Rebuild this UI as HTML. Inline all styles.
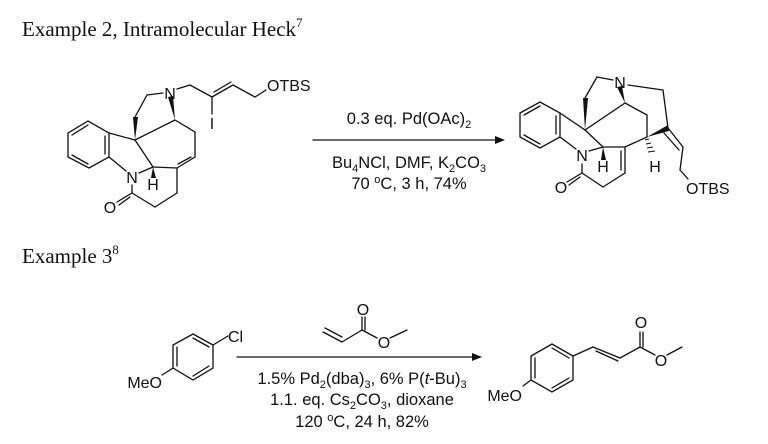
<!DOCTYPE html>
<html><head><meta charset="utf-8"><style>
html,body{margin:0;padding:0;background:#fff;}
svg{display:block;}
.t{font-family:"Liberation Sans",sans-serif;font-size:16.5px;fill:#111;}
.a{font-family:"Liberation Sans",sans-serif;font-size:16px;fill:#111;}
.s{font-family:"Liberation Serif",serif;font-size:21px;fill:#111;}
</style></head><body>
<svg width="768" height="444" viewBox="0 0 768 444" xmlns="http://www.w3.org/2000/svg">
<g stroke="#111" stroke-width="1.3" fill="none" stroke-linecap="round">
<!-- Left molecule -->
<polyline points="68,133 88,121 109,133 109,157 89,168 68,157 68,133"/>
<line x1="72" y1="135" x2="88" y2="125"/><line x1="105" y1="136" x2="105" y2="154"/><line x1="72" y1="155" x2="88" y2="164"/>
<line x1="109" y1="133" x2="135" y2="140"/>
<line x1="109" y1="157" x2="126" y2="171"/>
<line x1="139" y1="173" x2="153" y2="167"/>
<line x1="135" y1="140" x2="153" y2="167"/>
<line x1="147" y1="95" x2="163" y2="93"/>
<line x1="135" y1="117" x2="147" y2="95"/>
<line x1="175" y1="120" x2="135" y2="140"/>
<line x1="175" y1="120" x2="195" y2="132"/>
<line x1="195" y1="132" x2="195" y2="157"/>
<line x1="195" y1="157" x2="177" y2="168"/><line x1="191" y1="157" x2="178" y2="164"/>
<line x1="177" y1="168" x2="153" y2="167"/>
<line x1="177" y1="168" x2="177" y2="193"/>
<line x1="177" y1="193" x2="155" y2="207"/>
<line x1="155" y1="207" x2="132" y2="193"/>
<line x1="132" y1="193" x2="132" y2="185"/>
<line x1="132" y1="193" x2="117" y2="202"/><line x1="130" y1="197" x2="119" y2="205"/>
<line x1="177" y1="89" x2="190" y2="85"/>
<line x1="190" y1="85" x2="212" y2="97"/>
<line x1="212" y1="97" x2="212" y2="114"/>
<line x1="212" y1="97" x2="233" y2="85"/><line x1="214" y1="92" x2="231" y2="82"/>
<line x1="233" y1="85" x2="255" y2="97"/>
<line x1="255" y1="97" x2="266" y2="90"/>
<!-- Top arrow -->
<line x1="313" y1="140" x2="497" y2="140"/>
<!-- Right molecule -->
<polyline points="520,113 540,102 560,113 560,137 540,148 520,137 520,113"/>
<line x1="524" y1="115" x2="540" y2="106"/><line x1="556" y1="116" x2="556" y2="134"/><line x1="524" y1="135" x2="540" y2="144"/>
<line x1="560" y1="113" x2="585" y2="130"/>
<line x1="560" y1="137" x2="576" y2="149"/>
<line x1="589" y1="151" x2="603" y2="147"/>
<line x1="585" y1="130" x2="603" y2="147"/>
<line x1="585" y1="98" x2="597" y2="77"/>
<line x1="597" y1="77" x2="613" y2="80"/>
<line x1="625" y1="103" x2="585" y2="130"/>
<line x1="625" y1="103" x2="647" y2="115"/>
<line x1="647" y1="115" x2="647" y2="137"/>
<line x1="603" y1="147" x2="625" y2="147"/>
<line x1="625" y1="147" x2="647" y2="137"/>
<line x1="625" y1="147" x2="625" y2="173"/><line x1="621" y1="151" x2="621" y2="170"/>
<line x1="625" y1="173" x2="603" y2="187"/>
<line x1="603" y1="187" x2="582" y2="173"/>
<line x1="582" y1="173" x2="582" y2="164"/>
<line x1="582" y1="173" x2="567" y2="182"/><line x1="580" y1="177" x2="569" y2="185"/>
<line x1="628" y1="85" x2="663" y2="90"/>
<line x1="663" y1="90" x2="668" y2="128"/>
<line x1="668" y1="128" x2="683" y2="147"/><line x1="664" y1="133" x2="679" y2="150"/>
<line x1="683" y1="147" x2="680" y2="170"/>
<line x1="680" y1="170" x2="688" y2="179"/>
<!-- bottom left anisole -->
<polyline points="193,334 213,345 213,368 193,380 173,368 173,345 193,334"/>
<line x1="193" y1="338" x2="209" y2="347"/><line x1="209" y1="366" x2="193" y2="376"/><line x1="177" y1="366" x2="177" y2="347"/>
<line x1="213" y1="345" x2="228" y2="336"/>
<line x1="173" y1="368" x2="162" y2="375"/>
<!-- acrylate -->
<line x1="323" y1="332" x2="342" y2="342"/><line x1="325" y1="328" x2="342" y2="337"/>
<line x1="342" y1="342" x2="362" y2="330"/>
<line x1="362" y1="330" x2="362" y2="317"/><line x1="365" y1="330" x2="365" y2="317"/>
<line x1="362" y1="330" x2="377" y2="338"/>
<line x1="390" y1="338" x2="407" y2="330"/>
<!-- bottom arrow -->
<line x1="237" y1="357" x2="474" y2="357"/>
<!-- product -->
<polyline points="552,344 573,356 573,380 552,392 531,380 531,356 552,344"/>
<line x1="552" y1="348" x2="569" y2="358"/><line x1="569" y1="378" x2="552" y2="388"/><line x1="535" y1="378" x2="535" y2="358"/>
<line x1="573" y1="356" x2="593" y2="347"/>
<line x1="593" y1="347" x2="620" y2="358"/><line x1="596" y1="351" x2="618" y2="361"/>
<line x1="620" y1="358" x2="640" y2="347"/>
<line x1="640" y1="347" x2="640" y2="332"/><line x1="643" y1="347" x2="643" y2="332"/>
<line x1="640" y1="347" x2="655" y2="355"/>
<line x1="667" y1="355" x2="682" y2="347"/>
<line x1="531" y1="380" x2="523" y2="386"/>
</g>
<g fill="#111">
<polygon points="135,140 133,117 138,117"/>
<polygon points="175,120 168,97 173,96"/>
<polygon points="153,167 151,178 156,178"/>
<polygon points="585,130 583,98 588,98"/>
<polygon points="625,103 617,87 622,86"/>
<polygon points="603,147 601,160 606,160"/>
<polygon points="647,137 668,125 669,131"/>
<polygon points="505,140 495,136 495,144"/>
<polygon points="482,357 472,353 472,361"/>
</g>
<g stroke="#111" stroke-width="1">
<line x1="645" y1="140" x2="649" y2="139"/><line x1="646" y1="144" x2="651" y2="143"/><line x1="647" y1="148" x2="653" y2="147"/><line x1="648" y1="152" x2="655" y2="151"/>
</g>
<text class="s" x="22" y="36">Example 2, Intramolecular Heck<tspan font-size="13" dy="-9">7</tspan></text>
<text class="s" x="22" y="263">Example 3<tspan font-size="13" dy="-9">8</tspan></text>
<g class="a" text-anchor="middle">
<text x="132" y="183">N</text>
<text x="153" y="190">H</text>
<text x="170" y="99">N</text>
<text x="212" y="129">I</text>
<text x="110" y="213">O</text>
<text x="582" y="161">N</text>
<text x="603" y="172">H</text>
<text x="620" y="88">N</text>
<text x="655" y="172">H</text>
<text x="561" y="193">O</text>
<text x="363" y="315">O</text>
<text x="384" y="348">O</text>
<text x="641" y="328">O</text>
<text x="661" y="366">O</text>
</g>
<g class="a">
<text x="267" y="91">OTBS</text>
<text x="686" y="194">OTBS</text>
<text x="228" y="342">Cl</text>
<text x="162" y="388" text-anchor="end">MeO</text>
<text x="522" y="401" text-anchor="end">MeO</text>
</g>
<g class="t" text-anchor="middle">
<text x="409" y="124">0.3 eq. Pd(OAc)<tspan font-size="11" dy="4">2</tspan></text>
<text x="409" y="168">Bu<tspan font-size="11" dy="4">4</tspan><tspan dy="-4">NCl, DMF, K</tspan><tspan font-size="11" dy="4">2</tspan><tspan dy="-4">CO</tspan><tspan font-size="11" dy="4">3</tspan></text>
<text x="409" y="189">70 <tspan font-size="11" dy="-6">o</tspan><tspan dy="6">C, 3 h, 74%</tspan></text>
<text x="362" y="384">1.5% Pd<tspan font-size="11" dy="4">2</tspan><tspan dy="-4">(dba)</tspan><tspan font-size="11" dy="4">3</tspan><tspan dy="-4">, 6% P(</tspan><tspan font-style="italic">t</tspan>-Bu)<tspan font-size="11" dy="4">3</tspan></text>
<text x="362" y="405">1.1. eq. Cs<tspan font-size="11" dy="4">2</tspan><tspan dy="-4">CO</tspan><tspan font-size="11" dy="4">3</tspan><tspan dy="-4">, dioxane</tspan></text>
<text x="362" y="427">120 <tspan font-size="11" dy="-6">o</tspan><tspan dy="6">C, 24 h, 82%</tspan></text>
</g>
</svg>
</body></html>
